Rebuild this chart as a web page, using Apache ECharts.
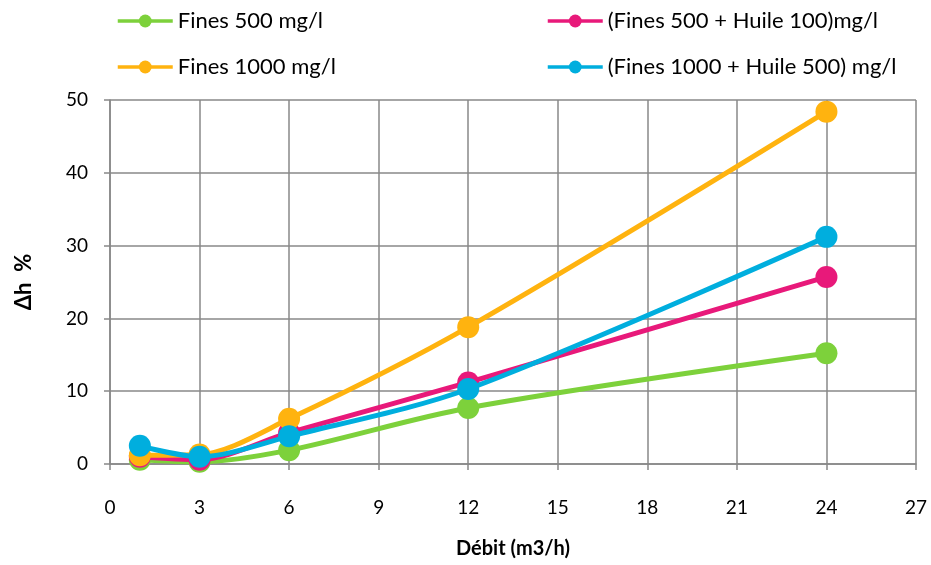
<!DOCTYPE html>
<html>
<head>
<meta charset="utf-8">
<script src="https://cdn.jsdelivr.net/npm/echarts@6/dist/echarts.min.js"></script>
<style>
  html, body { margin: 0; padding: 0; background: #fff; }
  #chart { width: 931px; height: 565px; }
</style>
</head>
<body>
<div id="chart"></div>
<script>
// Flow rates (m3/h)
const debit = [1, 3, 6, 12, 24];

// Head loss Δh (%) for each mixture
const fines500 = [0.6, 0.3, 1.9, 7.7, 15.2];
const fines500Huile100 = [1.0, 0.6, 4.3, 11.2, 25.7];
const fines1000 = [1.2, 1.3, 6.2, 18.8, 48.4];
const fines1000Huile500 = [2.5, 1.0, 3.8, 10.3, 31.2];

const seriesNames = [
  'Fines 500 mg/l',
  '(Fines 500 + Huile 100)mg/l',
  'Fines 1000 mg/l',
  '(Fines 1000 + Huile 500) mg/l'
];
const seriesValues = [fines500, fines500Huile100, fines1000, fines1000Huile500];
const colors = ['#7dd13b', '#e8197a', '#ffb30f', '#00aede'];

const font = 'Lato, "Open Sans", sans-serif';
const gridColor = '#888888';

const chart = echarts.init(document.getElementById('chart'));

const series = seriesNames.map((name, i) => ({
  name: name,
  type: 'line',
  data: debit.map((x, j) => [x, seriesValues[i][j]]),
  smooth: 0.3,
  symbol: 'circle',
  symbolSize: 22,
  lineStyle: { width: 5, color: colors[i] },
  itemStyle: { color: colors[i] },
  z: 2 + i
}));

// Legend layout: two columns, two rows
const legendLeft = [116, 546, 116, 546];
const legendTop = [10, 10, 56, 56];

const legends = seriesNames.map((name, i) => ({
  data: [name],
  left: legendLeft[i],
  top: legendTop[i],
  padding: 0,
  itemWidth: 55,
  itemHeight: 16,
  lineStyle: { width: 3.5 },
  textStyle: { fontFamily: font, fontSize: 22, color: '#000' }
}));

chart.setOption({
  animation: false,
  color: colors,
  legend: legends,
  grid: { left: 110, right: 15, top: 100, bottom: 101, containLabel: false },
  xAxis: {
    type: 'value',
    min: 0,
    max: 27,
    interval: 3,
    name: 'Débit (m3/h)',
    nameLocation: 'middle',
    nameGap: 75,
    nameTextStyle: { fontFamily: font, fontSize: 20, fontWeight: 'bold', color: '#000' },
    axisLine: { show: true, lineStyle: { color: gridColor, width: 1.5 } },
    axisTick: { show: true, inside: false, length: 6, lineStyle: { color: gridColor, width: 1.5 } },
    axisLabel: { fontFamily: font, fontSize: 19, color: '#000', margin: 34 },
    splitLine: { show: true, lineStyle: { color: gridColor, width: 1.5 } }
  },
  yAxis: {
    type: 'value',
    min: 0,
    max: 50,
    interval: 10,
    name: 'Δh  %',
    nameLocation: 'middle',
    nameGap: 75,
    nameRotate: 90,
    nameTextStyle: { fontFamily: font, fontSize: 22, fontWeight: 'bold', color: '#000' },
    axisLine: { show: true, lineStyle: { color: gridColor, width: 1.5 } },
    axisTick: { show: true, inside: false, length: 6, lineStyle: { color: gridColor, width: 1.5 } },
    axisLabel: { fontFamily: font, fontSize: 19, color: '#000', margin: 22 },
    splitLine: { show: true, lineStyle: { color: gridColor, width: 1.5 } }
  },
  series: series
});
</script>
</body>
</html>
